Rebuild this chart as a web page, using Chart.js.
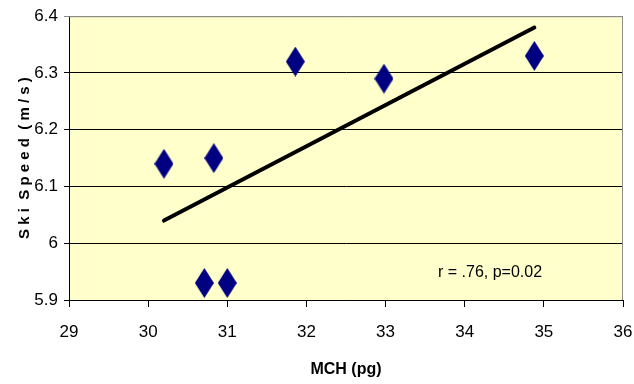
<!DOCTYPE html>
<html>
<head>
<meta charset="utf-8">
<script src="https://cdn.jsdelivr.net/npm/chart.js@4"></script>
<style>
  html, body { margin: 0; padding: 0; background: #fff; }
  #wrap { width: 634px; height: 384px; }
</style>
</head>
<body>
<div id="wrap"><canvas id="chart"></canvas></div>
<script>
// MCH vs ski speed
const mchValues = [30.2, 30.83, 30.71, 31.0, 31.86, 32.98, 34.88];
const speedValues = [6.14, 6.15, 5.93, 5.93, 6.32, 6.29, 6.33];
// trend line end points
const trendX = [30.2, 34.88];
const trendY = [6.04, 6.38];
const xTicks = [29, 30, 31, 32, 33, 34, 35, 36];
const yTicks = [5.9, 6.0, 6.1, 6.2, 6.3, 6.4];
const statsText = 'r = .76, p=0.02';

const narrow = '"Liberation Sans Narrow", "Arial Narrow", "Liberation Sans", Arial, sans-serif';

// tall diamond marker
function makeDiamond(w, h, color) {
    const c = document.createElement('canvas');
    c.width = w;
    c.height = h;
    const g = c.getContext('2d');
    g.fillStyle = color;
    g.beginPath();
    g.moveTo(w / 2, 0);
    g.lineTo(w, h / 2);
    g.lineTo(w / 2, h);
    g.lineTo(0, h / 2);
    g.closePath();
    g.fill();
    return c;
}
const diamond = makeDiamond(19, 30, '#000080');

// yellow plot background + grey frame on top/right
const plotBg = {
    id: 'plotBg',
    beforeDraw(chart) {
        const { ctx, chartArea: a } = chart;
        ctx.save();
        ctx.fillStyle = '#FFFFCC';
        ctx.fillRect(a.left, a.top, a.right - a.left, a.bottom - a.top);
        ctx.restore();
    },
    afterDatasetsDraw(chart) {
        const { ctx, chartArea: a } = chart;
        ctx.save();
        ctx.strokeStyle = '#8c8c8c';
        ctx.lineWidth = 1;
        ctx.beginPath();
        ctx.moveTo(a.left, a.top + 0.5);
        ctx.lineTo(a.right - 0.5, a.top + 0.5);
        ctx.lineTo(a.right - 0.5, a.bottom);
        ctx.stroke();
        ctx.restore();
    }
};

const statsLabel = {
    id: 'statsLabel',
    afterDraw(chart) {
        const { ctx, scales } = chart;
        ctx.save();
        ctx.font = '16px ' + narrow;
        ctx.fillStyle = '#000';
        ctx.textAlign = 'center';
        ctx.textBaseline = 'middle';
        ctx.fillText(statsText, scales.x.getPixelForValue(34.32), scales.y.getPixelForValue(5.948));
        ctx.restore();
    }
};

new Chart(document.getElementById('chart'), {
    type: 'scatter',
    data: {
        datasets: [
            {
                label: 'Ski speed',
                data: mchValues.map((x, i) => ({ x: x, y: speedValues[i] })),
                pointStyle: diamond,
                pointRadius: 10,
                order: 1
            },
            {
                label: 'Trend',
                type: 'line',
                data: trendX.map((x, i) => ({ x: x, y: trendY[i] })),
                borderColor: '#000',
                borderWidth: 4,
                borderCapStyle: 'round',
                pointRadius: 0,
                fill: false,
                order: 2
            }
        ]
    },
    options: {
        responsive: true,
        maintainAspectRatio: false,
        animation: false,
        layout: { padding: { left: 0, right: 0, top: 16, bottom: 0 } },
        plugins: {
            legend: { display: false },
            tooltip: { enabled: false }
        },
        scales: {
            x: {
                type: 'linear',
                min: 29,
                max: 36,
                afterBuildTicks(scale) { scale.ticks = xTicks.map(v => ({ value: v })); },
                afterFit(scale) {
                    scale.height = 84;
                    scale.paddingRight = 11;
                },
                ticks: {
                    color: '#000',
                    padding: 15,
                    font: { family: narrow, size: 17 }
                },
                grid: {
                    drawOnChartArea: false,
                    drawTicks: true,
                    tickLength: 7,
                    color: '#000'
                },
                border: { color: '#000', width: 1 },
                title: {
                    display: true,
                    text: 'MCH (pg)',
                    color: '#000',
                    font: { family: narrow, size: 16, weight: 'bold' },
                    padding: { top: 0, bottom: 5 }
                }
            },
            y: {
                type: 'linear',
                min: 5.9,
                max: 6.4,
                afterBuildTicks(scale) { scale.ticks = yTicks.map(v => ({ value: v })); },
                afterFit(scale) { scale.width = 69; },
                ticks: {
                    color: '#000',
                    padding: 6,
                    font: { family: narrow, size: 17 },
                    callback: v => String(Math.round(v * 10) / 10)
                },
                grid: {
                    color: ctx => (ctx.tick && ctx.tick.value === 6.4 ? '#8c8c8c' : '#000'),
                    tickLength: 5,
                    drawTicks: true
                },
                border: { color: '#000', width: 1 },
                title: {
                    display: true,
                    text: 'S k i  S p e e d  ( m / s )',
                    color: '#000',
                    font: { family: narrow, size: 15, weight: 'bold' },
                    padding: { top: 16, bottom: 0 }
                }
            }
        }
    },
    plugins: [plotBg, statsLabel]
});
</script>
</body>
</html>
